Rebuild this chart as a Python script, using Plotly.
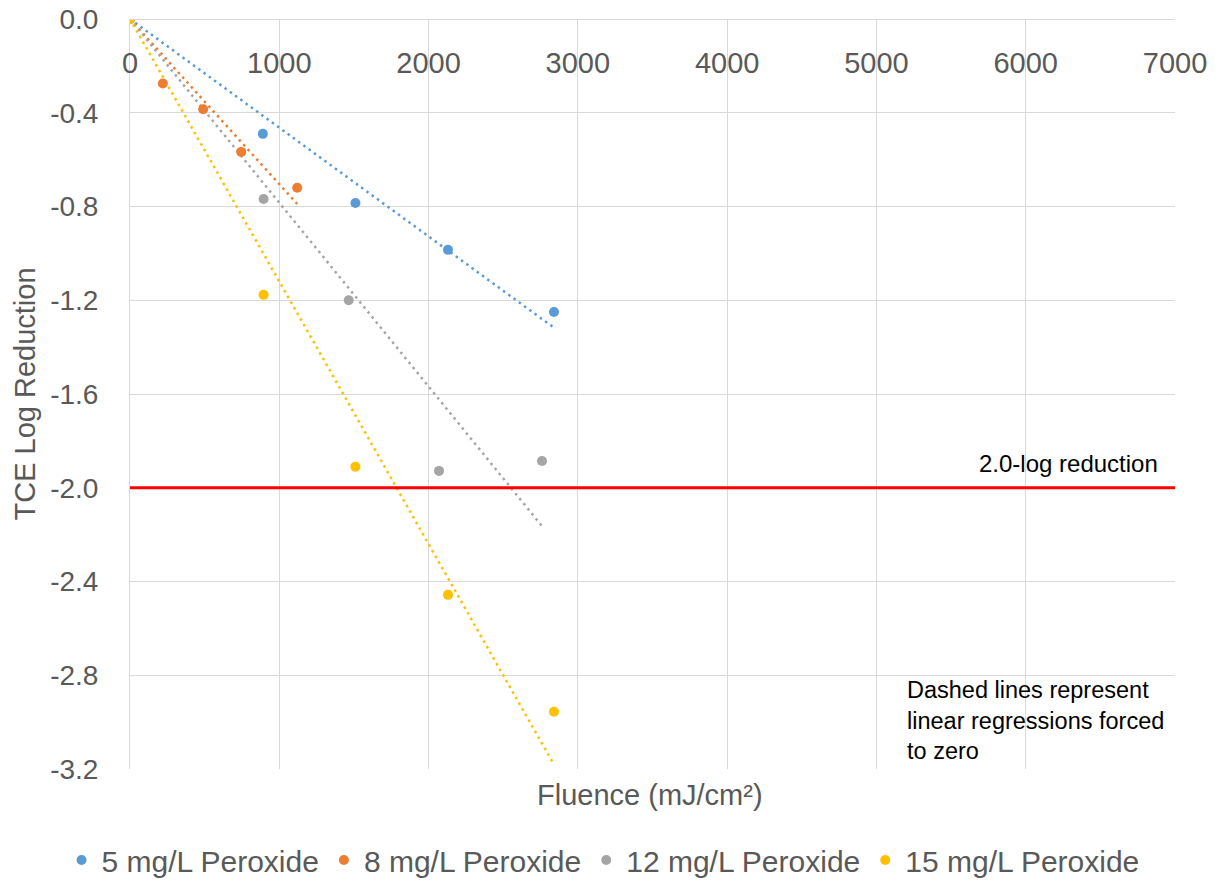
import numpy as np
import plotly.graph_objects as go

series_names = ["5 mg/L Peroxide", "8 mg/L Peroxide", "12 mg/L Peroxide", "15 mg/L Peroxide"]
x5 = [0, 890, 1510, 2130, 2840]
y5 = [0, -0.49, -0.785, -0.985, -1.25]
x8 = [0, 220, 490, 745, 1120]
y8 = [0, -0.275, -0.385, -0.567, -0.72]
x12 = [0, 895, 1465, 2070, 2760]
y12 = [0, -0.768, -1.2, -1.928, -1.886]
x15 = [0, 895, 1510, 2130, 2840]
y15 = [0, -1.177, -1.91, -2.457, -2.956]
colors = ["#5B9BD5", "#ED7D31", "#A5A5A5", "#FFC000"]

threshold = -2.0
x_range = [0, 7000]
y_range = [-3.2, 0]
x_ticks = [0, 1000, 2000, 3000, 4000, 5000, 6000, 7000]
y_ticks = [0.0, -0.4, -0.8, -1.2, -1.6, -2.0, -2.4, -2.8, -3.2]
y_ticklabels = ["0.0", "-0.4", "-0.8", "-1.2", "-1.6", "-2.0", "-2.4", "-2.8", "-3.2"]

FONT = "Liberation Sans"
TXT = "#595959"

fig = go.Figure()
data = [(x5, y5), (x8, y8), (x12, y12), (x15, y15)]

# regression lines forced through zero
for (xs, ys), c in zip(data, colors):
    xa = np.array(xs, dtype=float)
    ya = np.array(ys, dtype=float)
    slope = (xa * ya).sum() / (xa * xa).sum()
    xe = [0, xa.max()]
    fig.add_trace(go.Scatter(x=xe, y=[slope * v for v in xe], mode="lines",
                             line=dict(color=c, width=2.5, dash="2.5px,4px"),
                             showlegend=False, hoverinfo="skip"))

fig.add_trace(go.Scatter(x=x_range, y=[threshold, threshold], mode="lines",
                         line=dict(color="#FF0000", width=3), showlegend=False,
                         hoverinfo="skip"))

for (xs, ys), c, n in zip(data, colors, series_names):
    fig.add_trace(go.Scatter(x=xs, y=ys, mode="markers", name=n,
                             marker=dict(color=c, size=10)))

fig.add_annotation(x=6900, y=-1.895, text="2.0-log reduction", showarrow=False,
                   xanchor="right", yanchor="middle",
                   font=dict(family=FONT, size=24, color="#000000"))
fig.add_annotation(x=5190, y=-2.80, text="Dashed lines represent<br>linear regressions forced<br>to zero",
                   showarrow=False, xanchor="left", yanchor="top", align="left",
                   font=dict(family=FONT, size=23.5, color="#000000"))
fig.add_annotation(x=0.498, y=-0.035, xref="paper", yref="paper", text="Fluence (mJ/cm²)",
                   showarrow=False, xanchor="center", yanchor="middle",
                   font=dict(family=FONT, size=29, color=TXT))

fig.update_layout(
    width=1204, height=900,
    margin=dict(l=122, r=37, t=11, b=139),
    paper_bgcolor="white", plot_bgcolor="white",
    font=dict(family=FONT, color=TXT),
    showlegend=True,
    legend=dict(orientation="h", x=-0.0655, xanchor="left",
                y=-0.1213, yanchor="middle",
                font=dict(family=FONT, size=30, color=TXT)),
    xaxis=dict(range=x_range, tickvals=x_ticks, anchor="free", position=1, side="bottom",
               ticklabelstandoff=18, showgrid=True, gridcolor="#D9D9D9", gridwidth=1,
               showline=True, linecolor="#D9D9D9", linewidth=1, zeroline=False,
               automargin=False, ticklabeloverflow="allow",
               tickfont=dict(family=FONT, size=29, color=TXT)),
    yaxis=dict(range=y_range, tickvals=y_ticks, ticktext=y_ticklabels,
               showgrid=True, gridcolor="#D9D9D9", gridwidth=1, zeroline=False,
               showline=True, linecolor="#D9D9D9", linewidth=1, ticklabelstandoff=25,
               automargin=False, ticklabeloverflow="allow",
               tickfont=dict(family=FONT, size=28, color=TXT),
               title=dict(text="TCE Log Reduction", font=dict(family=FONT, size=29, color=TXT),
                          standoff=6)),
)

fig.write_html("out.html")
